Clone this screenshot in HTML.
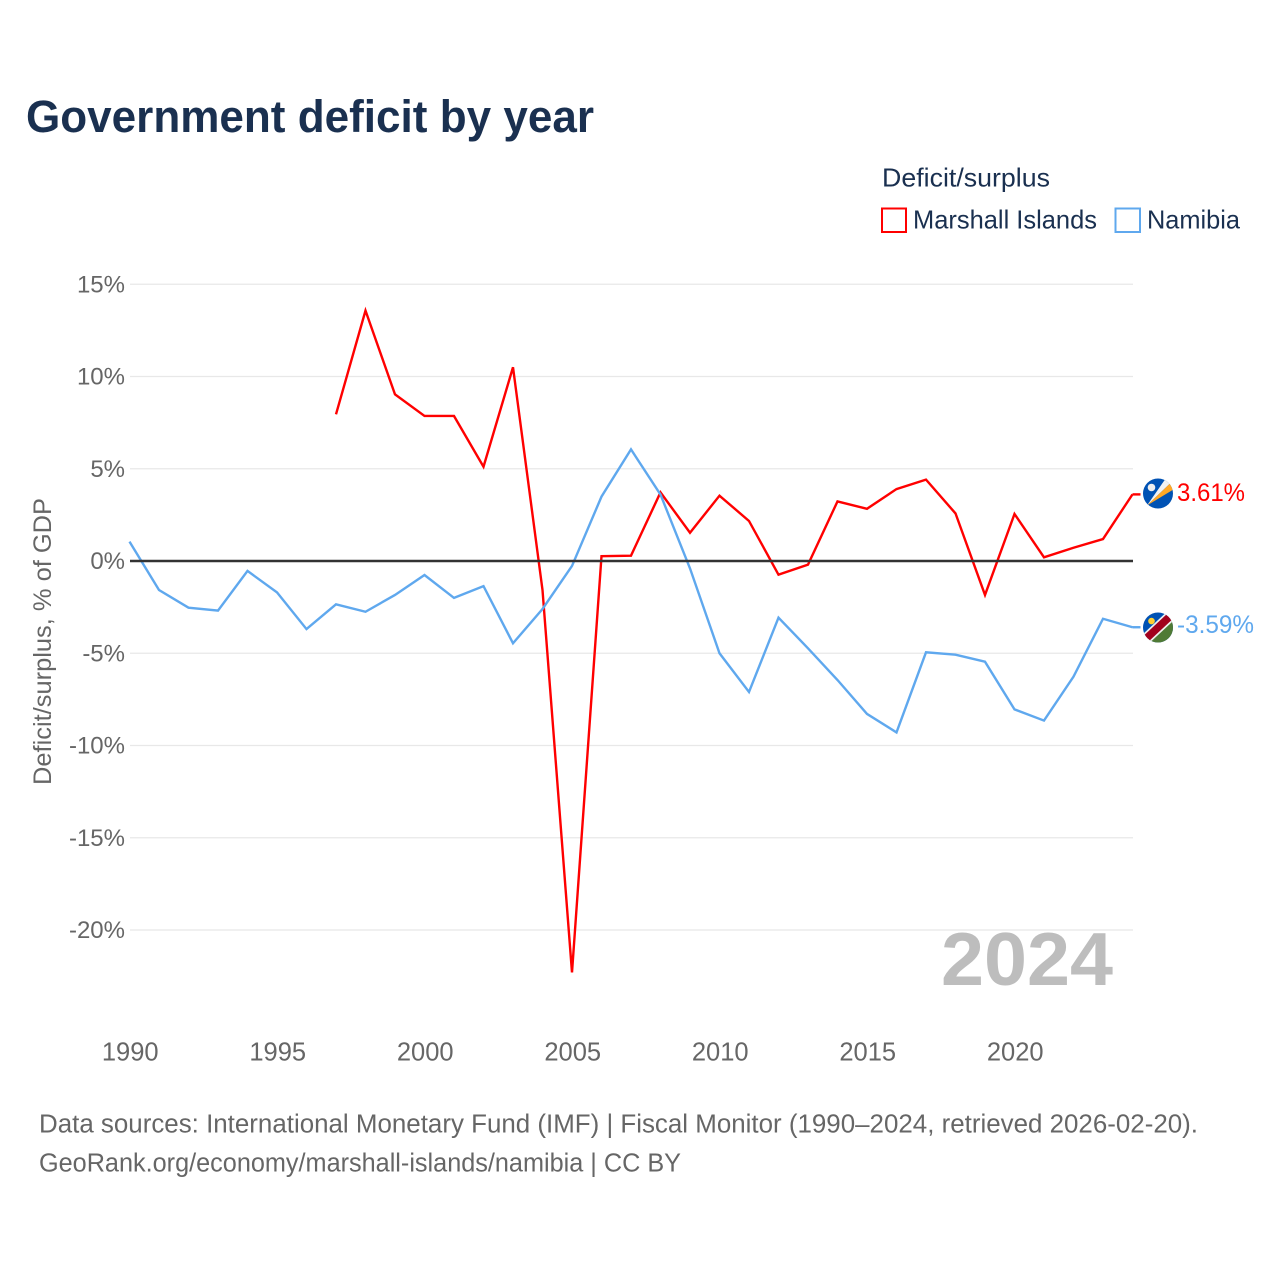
<!DOCTYPE html>
<html>
<head>
<meta charset="utf-8">
<title>Government deficit by year</title>
<style>
html,body{margin:0;padding:0;background:#fff;}
svg{display:block;font-family:"Liberation Sans",sans-serif;}
</style>
</head>
<body>
<svg id="chart" width="1280" height="1280" viewBox="0 0 1280 1280" xmlns="http://www.w3.org/2000/svg">
  <rect width="1280" height="1280" fill="#fff"/>
  <text x="26" y="132" font-size="45" font-weight="700" fill="#1a3050" textLength="568" lengthAdjust="spacingAndGlyphs">Government deficit by year</text>

  <g>
    <text x="882" y="186.500" font-size="26" fill="#1a3050" textLength="168" lengthAdjust="spacingAndGlyphs">Deficit/surplus</text>
    <rect x="882" y="208.500" width="24" height="23.500" fill="none" stroke="#ff0000" stroke-width="2"/>
    <text x="913" y="228.500" font-size="26" fill="#1a3050" textLength="184" lengthAdjust="spacingAndGlyphs">Marshall Islands</text>
    <rect x="1115.500" y="208.500" width="24.500" height="23.500" fill="none" stroke="#5fa8ee" stroke-width="2"/>
    <text x="1147" y="228.500" font-size="26" fill="#1a3050" textLength="93" lengthAdjust="spacingAndGlyphs">Namibia</text>
  </g>

  <text transform="translate(51,785) rotate(-90)" x="0" y="0" font-size="25" fill="#666" textLength="287" lengthAdjust="spacingAndGlyphs">Deficit/surplus, % of GDP</text>

  <g id="grid"></g>
  <g id="y-ticks"></g>
  <g id="x-ticks"></g>

  <text x="1113" y="985" font-size="75" font-weight="700" fill="#bdbdbd" text-anchor="end" textLength="172" lengthAdjust="spacingAndGlyphs">2024</text>

  <g id="series"></g>
  <g id="zero-layer"></g>

  <defs>
    <clipPath id="flag-clip"><circle cx="0" cy="0" r="15"/></clipPath>
  </defs>

  <g id="flag-marshall">
    <g clip-path="url(#flag-clip)">
      <rect x="-16" y="-16" width="32" height="32" fill="#0052b4"/>
      <polygon points="-11,12 7,-14 12.500,-10.500" fill="#f2f2f2"/>
      <polygon points="-11,12 12.500,-10.500 15.500,-4" fill="#ffa826"/>
      <circle cx="-6.500" cy="-6" r="3.800" fill="#f0f0f0"/>
    </g>
  </g>
  <g id="flag-namibia">
    <g clip-path="url(#flag-clip)">
      <rect x="-16" y="-16" width="32" height="32" fill="#0052b4"/>
      <polygon points="16,-16 16,16 -16,16" fill="#4f7a35"/>
      <g transform="rotate(-43)">
        <rect x="-22" y="-5.500" width="44" height="11" fill="#f0f0f0"/>
        <rect x="-22" y="-3.800" width="44" height="7.600" fill="#a2001d"/>
      </g>
      <circle cx="-6.500" cy="-6.500" r="3.300" fill="#ffcf33"/>
    </g>
  </g>
  <g id="end-labels"></g>

  <text x="39" y="1132.500" font-size="25.500" fill="#666" textLength="1159" lengthAdjust="spacingAndGlyphs">Data sources: International Monetary Fund (IMF) | Fiscal Monitor (1990–2024, retrieved 2026-02-20).</text>
  <text x="39" y="1171.500" font-size="25.500" fill="#666" textLength="642" lengthAdjust="spacingAndGlyphs">GeoRank.org/economy/marshall-islands/namibia | CC BY</text>
</svg>

<script>
const years = [1990,1991,1992,1993,1994,1995,1996,1997,1998,1999,2000,2001,2002,2003,2004,2005,2006,2007,2008,2009,2010,2011,2012,2013,2014,2015,2016,2017,2018,2019,2020,2021,2022,2023,2024];
const marshallIslands = [null,null,null,null,null,null,null,7.95,13.57,9.03,7.86,7.86,5.11,10.5,-1.57,-22.3,0.26,0.29,3.72,1.53,3.54,2.17,-0.74,-0.2,3.23,2.83,3.9,4.41,2.58,-1.84,2.55,0.2,0.72,1.19,3.61];
const namibia = [1.05,-1.57,-2.53,-2.69,-0.54,-1.7,-3.69,-2.35,-2.75,-1.84,-0.76,-2.0,-1.36,-4.46,-2.6,-0.27,3.49,6.05,3.6,-0.4,-5.0,-7.1,-3.07,-4.73,-6.45,-8.29,-9.29,-4.95,-5.08,-5.46,-8.04,-8.65,-6.27,-3.13,-3.59];
const yTicks = [15,10,5,0,-5,-10,-15,-20];
const xTicks = [1990,1995,2000,2005,2010,2015,2020];

const NS = 'http://www.w3.org/2000/svg';
const X0 = 129.5, X1 = 1132.5, Y_ZERO = 561, PX_PER_PCT = 18.45;
const xScale = function (yr) { return X0 + (yr - years[0]) * (X1 - X0) / (years[years.length - 1] - years[0]); };
const yScale = function (v) { return Y_ZERO - v * PX_PER_PCT; };

const gridLayer = document.getElementById('grid');
const yTickLayer = document.getElementById('y-ticks');
const xTickLayer = document.getElementById('x-ticks');
const seriesLayer = document.getElementById('series');
const zeroLayer = document.getElementById('zero-layer');
const endLabelLayer = document.getElementById('end-labels');

yTicks.forEach(function (t) {
  const line = document.createElementNS(NS, 'line');
  
  
  line.setAttribute('x1', 130);
  line.setAttribute('x2', 1133);
  line.setAttribute('y1', yScale(t));
  line.setAttribute('y2', yScale(t));
  line.setAttribute('stroke', '#e8e8e8');
  line.setAttribute('stroke-width', '1.2');
  gridLayer.appendChild(line);

  const label = document.createElementNS(NS, 'text');
  
  
  label.setAttribute('x', 125);
  label.setAttribute('y', yScale(t) + 8);
  label.setAttribute('text-anchor', 'end');
  label.setAttribute('font-size', '24');
  label.setAttribute('fill', '#666');
  label.textContent = t + '%';
  yTickLayer.appendChild(label);
});

xTicks.forEach(function (t) {
  const label = document.createElementNS(NS, 'text');
  
  
  label.setAttribute('x', xScale(t) + 0.7);
  label.setAttribute('y', 1060.5);
  label.setAttribute('text-anchor', 'middle');
  label.setAttribute('font-size', '25.5');
  label.setAttribute('fill', '#666');
  label.textContent = t;
  xTickLayer.appendChild(label);
});

function linePoints(values) {
  const pts = [];
  values.forEach(function (v, i) {
    if (v !== null) pts.push(xScale(years[i]).toFixed(2) + ',' + yScale(v).toFixed(2));
  });
  return pts.join(' ');
}

const marshallLine = document.createElementNS(NS, 'polyline');


marshallLine.setAttribute('points', linePoints(marshallIslands));
marshallLine.setAttribute('fill', 'none');
marshallLine.setAttribute('stroke', '#ff0000');
marshallLine.setAttribute('stroke-width', '2.4');
seriesLayer.appendChild(marshallLine);

const namibiaLine = document.createElementNS(NS, 'polyline');


namibiaLine.setAttribute('points', linePoints(namibia));
namibiaLine.setAttribute('fill', 'none');
namibiaLine.setAttribute('stroke', '#5fa8ee');
namibiaLine.setAttribute('stroke-width', '2.4');
seriesLayer.appendChild(namibiaLine);

const zeroLine = document.createElementNS(NS, 'line');


zeroLine.setAttribute('x1', 130);
zeroLine.setAttribute('x2', 1133);
zeroLine.setAttribute('y1', yScale(0));
zeroLine.setAttribute('y2', yScale(0));
zeroLine.setAttribute('stroke', '#333');
zeroLine.setAttribute('stroke-width', '2.4');
zeroLayer.appendChild(zeroLine);

const lastMarshall = marshallIslands[marshallIslands.length - 1];
const lastNamibia = namibia[namibia.length - 1];

const marshallConnector = document.createElementNS(NS, 'line');


marshallConnector.setAttribute('x1', X1);
marshallConnector.setAttribute('x2', X1 + 8);
marshallConnector.setAttribute('y1', yScale(lastMarshall));
marshallConnector.setAttribute('y2', yScale(lastMarshall));
marshallConnector.setAttribute('stroke', '#ff0000');
marshallConnector.setAttribute('stroke-width', '2.4');
seriesLayer.appendChild(marshallConnector);

const namibiaConnector = document.createElementNS(NS, 'line');


namibiaConnector.setAttribute('x1', X1);
namibiaConnector.setAttribute('x2', X1 + 8);
namibiaConnector.setAttribute('y1', yScale(lastNamibia));
namibiaConnector.setAttribute('y2', yScale(lastNamibia));
namibiaConnector.setAttribute('stroke', '#5fa8ee');
namibiaConnector.setAttribute('stroke-width', '2.4');
seriesLayer.appendChild(namibiaConnector);

document.getElementById('flag-marshall').setAttribute('transform', 'translate(1158,' + (yScale(lastMarshall) - 0.9) + ')');
document.getElementById('flag-namibia').setAttribute('transform', 'translate(1158,' + (yScale(lastNamibia) + 0.3) + ')');

const marshallValue = document.createElementNS(NS, 'text');


marshallValue.setAttribute('x', 1177);
marshallValue.setAttribute('y', yScale(lastMarshall) + 6.5);
marshallValue.setAttribute('font-size', '25');
marshallValue.setAttribute('fill', '#ff0000');
marshallValue.setAttribute('textLength', '68');
marshallValue.setAttribute('lengthAdjust', 'spacingAndGlyphs');
marshallValue.textContent = lastMarshall.toFixed(2) + '%';
endLabelLayer.appendChild(marshallValue);

const namibiaValue = document.createElementNS(NS, 'text');


namibiaValue.setAttribute('x', 1177);
namibiaValue.setAttribute('y', yScale(lastNamibia) + 6);
namibiaValue.setAttribute('font-size', '25');
namibiaValue.setAttribute('fill', '#5fa8ee');
namibiaValue.setAttribute('textLength', '77');
namibiaValue.setAttribute('lengthAdjust', 'spacingAndGlyphs');
namibiaValue.textContent = lastNamibia.toFixed(2) + '%';
endLabelLayer.appendChild(namibiaValue);
</script>
</body>
</html>
